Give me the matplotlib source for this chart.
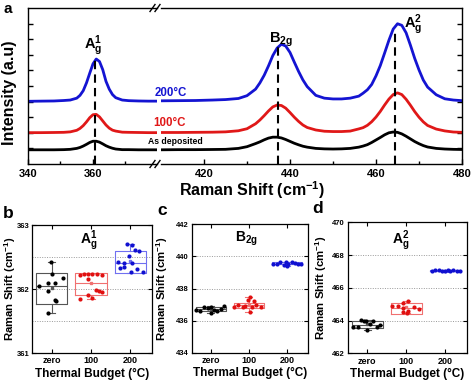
import matplotlib
matplotlib.use('Agg')
import matplotlib.pyplot as plt
from matplotlib.lines import Line2D
from matplotlib.ticker import FixedLocator, NullFormatter

plt.rcParams['font.family'] = ['Liberation Sans', 'DejaVu Sans']
plt.rcParams['font.weight'] = 'bold'
plt.rcParams['mathtext.fontset'] = 'custom'
plt.rcParams['mathtext.rm'] = 'Liberation Sans:bold'
plt.rcParams['mathtext.bf'] = 'Liberation Sans:bold'
plt.rcParams['mathtext.it'] = 'Liberation Sans:bold'
plt.rcParams['mathtext.default'] = 'bf'

# ---------------- data: spectra (panel a) ----------------
x_left = [340, 344, 348, 351, 353, 355, 356, 357, 358, 359, 360, 361, 362, 363,
          364, 365, 366, 367, 369, 371, 374, 377, 380]
blue_left = [4.02, 4.03, 4.04, 4.07, 4.10, 4.22, 4.40, 4.70, 5.20, 5.82, 6.42, 6.73,
             6.57, 6.05, 5.30, 4.80, 4.45, 4.25, 4.10, 4.06, 4.04, 4.03, 4.03]
red_left = [2.01, 2.01, 2.02, 2.03, 2.06, 2.16, 2.28, 2.46, 2.70, 2.97, 3.16, 3.18,
            3.02, 2.76, 2.50, 2.30, 2.17, 2.11, 2.04, 2.03, 2.02, 2.01, 2.01]
black_left = [0.91, 0.91, 0.91, 0.92, 0.94, 1.00, 1.06, 1.15, 1.26, 1.38, 1.46, 1.46,
              1.40, 1.29, 1.17, 1.08, 1.01, 0.96, 0.92, 0.92, 0.91, 0.91, 0.91]

x_right = [410, 414, 418, 422, 425, 428, 430, 432, 433, 434, 435, 436, 437, 438, 439,
           440, 441, 442, 443, 444, 446, 448, 450, 452, 454, 456, 457, 458, 459, 460,
           461, 462, 463, 464, 465, 466, 467, 468, 469, 470, 471, 472, 474, 476, 478, 480]
blue_right = [4.05, 4.06, 4.07, 4.10, 4.13, 4.20, 4.38, 4.80, 5.20, 5.69, 6.29, 6.95,
              7.43, 7.68, 7.56, 7.15, 6.53, 5.93, 5.39, 4.96, 4.40, 4.22, 4.17, 4.17,
              4.22, 4.35, 4.54, 4.76, 5.10, 5.65, 6.31, 7.11, 7.93, 8.65, 8.99, 8.89,
              8.41, 7.62, 6.77, 6.03, 5.38, 4.93, 4.44, 4.18, 4.10, 4.06]
red_right = [2.02, 2.02, 2.03, 2.04, 2.06, 2.13, 2.26, 2.58, 2.82, 3.10, 3.40, 3.66,
             3.78, 3.75, 3.58, 3.30, 3.00, 2.73, 2.50, 2.34, 2.18, 2.10, 2.08, 2.08,
             2.11, 2.25, 2.33, 2.48, 2.71, 3.01, 3.37, 3.78, 4.16, 4.45, 4.56, 4.45,
             4.15, 3.77, 3.36, 3.00, 2.70, 2.47, 2.24, 2.12, 2.05, 2.03]
black_right = [0.91, 0.92, 0.92, 0.93, 0.94, 1.00, 1.11, 1.31, 1.42, 1.55, 1.66, 1.72,
               1.72, 1.67, 1.57, 1.45, 1.33, 1.23, 1.14, 1.08, 1.00, 0.97, 0.96, 0.97,
               1.00, 1.08, 1.15, 1.24, 1.38, 1.54, 1.70, 1.87, 2.00, 2.05, 2.03, 1.93,
               1.78, 1.61, 1.44, 1.30, 1.18, 1.09, 1.00, 0.96, 0.94, 0.93]

peak_pos = [360.6, 437.3, 464.4]
peak_top = [6.7, 7.6, 8.5]
peak_labels = [r'$\mathbf{A}_{g}^{1}$', r'$\mathbf{B}_{2g}$', r'$\mathbf{A}_{g}^{2}$']
peak_label_xy = [(360.0, 7.6), (437.9, 7.95), (468.6, 8.95)]

# ---------------- data: box panels (b, c, d) ----------------
categories = ['zero', '100', '200']

b_vals = [
    [362.42, 362.23, 362.17, 362.10, 362.04, 362.10, 361.97, 361.83, 361.82, 361.62],
    [362.22, 362.23, 362.23, 362.24, 362.24, 362.22, 362.15, 361.99, 361.97, 361.95,
     361.84, 361.90, 361.86],
    [362.70, 362.68, 362.61, 362.59, 362.52, 362.42, 362.40, 362.41, 362.34, 362.33,
     362.27, 362.32, 362.27],
]
b_jit = [
    [-0.01, 0.01, 0.29, -0.09, -0.31, 0.09, -0.09, 0.09, 0.11, -0.09],
    [-0.29, -0.18, -0.07, 0.03, 0.14, 0.29, -0.07, 0.12, 0.20, 0.29, -0.29, -0.07, 0.02],
    [-0.09, 0.03, 0.12, 0.21, -0.03, -0.31, -0.15, 0.03, -0.15, -0.26, 0.02, 0.16, 0.31],
]
b_q1 = [361.77, 361.91, 362.25]
b_q3 = [362.25, 362.25, 362.60]
b_med = [362.04, 362.09, 362.40]
b_wlo = [361.62, 361.84, 362.25]
b_whi = [362.42, 362.25, 362.70]
b_mean = [362.02, 362.10, 362.44]

c_vals = [
    [436.66, 436.60, 436.86, 436.80, 436.82, 436.45, 436.68, 436.62, 436.75, 436.88],
    [436.85, 436.98, 436.85, 437.28, 437.50, 437.25, 436.55, 436.90, 436.82, 436.97, 436.85],
    [439.53, 439.53, 439.68, 439.45, 439.62, 439.53, 439.62, 439.58, 439.55, 439.53, 439.42],
]
c_jit = [
    [-0.38, -0.27, -0.17, -0.08, 0.0, 0.0, 0.08, 0.17, 0.26, 0.34],
    [-0.40, -0.28, -0.15, -0.03, 0.03, 0.13, 0.03, -0.10, 0.08, 0.20, 0.31],
    [-0.36, -0.26, -0.17, -0.08, -0.03, 0.04, 0.13, 0.21, 0.30, 0.38, 0.0],
]
c_q1 = [436.59, 436.80, 439.50]
c_q3 = [436.86, 437.12, 439.62]
c_med = [436.72, 436.95, 439.55]
c_wlo = [436.45, 436.55, 439.42]
c_whi = [436.88, 437.50, 439.68]
c_mean = [436.71, 436.98, 439.56]

d_vals = [
    [463.63, 463.63, 464.04, 463.98, 463.98, 463.43, 463.78, 463.98, 463.63, 463.74],
    [464.87, 464.90, 465.10, 465.20, 464.75, 464.60, 464.45, 464.50, 464.82, 464.68],
    [467.02, 467.06, 467.08, 467.05, 467.00, 467.08, 467.04, 467.06, 467.05, 467.05],
]
d_jit = [
    [-0.36, -0.23, -0.17, -0.08, -0.02, 0.0, 0.07, 0.15, 0.24, 0.34],
    [-0.36, -0.22, -0.07, 0.04, -0.07, 0.04, 0.03, -0.07, 0.19, 0.32],
    [-0.34, -0.26, -0.17, -0.09, 0.0, 0.06, 0.13, 0.21, 0.30, 0.39],
]
d_q1 = [463.57, 464.42, 467.00]
d_q3 = [463.98, 465.05, 467.10]
d_med = [463.75, 464.75, 467.05]
d_wlo = [463.43, 464.45, 466.99]
d_whi = [464.04, 465.20, 467.09]
d_mean = [463.77, 464.80, 467.05]

# ---------------- styling ----------------
C_BLUE = '#1414d2'
C_RED = '#e01818'
C_BLACK = '#000000'
pt_colors = [C_BLACK, '#e01010', '#1010d0']
box_colors = ['#555555', '#f07070', '#7070f0']

W, H = 474, 381
fig = plt.figure(figsize=(W / 100, H / 100), dpi=100)


def fr(l, t, r, b):
    return [l / W, 1 - b / H, (r - l) / W, (b - t) / H]


def fx(px):
    return px / W


def fy(py):
    return 1 - py / H


# ---------------- panel a ----------------
axL = fig.add_axes(fr(28, 8, 157, 164))
axR = fig.add_axes(fr(161, 8, 462, 164))
for ax in (axL, axR):
    ax.set_ylim(0, 10)
    ax.yaxis.set_major_locator(FixedLocator([1, 2, 3, 4, 5, 6, 7, 8, 9]))
    ax.yaxis.set_major_formatter(NullFormatter())
    ax.tick_params(which='both', direction='in', labelsize=8, width=1)
    ax.tick_params(which='major', length=3.5)
    ax.tick_params(which='minor', length=2)
    for s in ax.spines.values():
        s.set_linewidth(1.0)

axL.set_xlim(340, 379.7)
axR.set_xlim(410, 480)
axL.spines['right'].set_visible(False)
axR.spines['left'].set_visible(False)
axL.tick_params(axis='y', left=True, right=False)
axR.tick_params(axis='y', left=False, right=True)
axL.set_xticks([340, 360])
axL.set_xticks([350, 370], minor=True)
axR.set_xticks([420, 440, 460, 480])
axR.set_xticks([430, 450, 470], minor=True)
for ax in (axL, axR):
    for lab in ax.get_xticklabels():
        lab.set_fontweight('bold')

lw_s = 2.0
axL.plot(x_left, black_left, color=C_BLACK, lw=lw_s)
axL.plot(x_left, red_left, color=C_RED, lw=lw_s)
axL.plot(x_left, blue_left, color=C_BLUE, lw=lw_s)
axR.plot(x_right, black_right, color=C_BLACK, lw=lw_s)
axR.plot(x_right, red_right, color=C_RED, lw=lw_s)
axR.plot(x_right, blue_right, color=C_BLUE, lw=lw_s)

for pos, top, lab, (lx, ly) in zip(peak_pos, peak_top, peak_labels, peak_label_xy):
    ax = axL if pos < 400 else axR
    ax.plot([pos, pos], [0, top], color='black', lw=1.5, ls=(0, (4, 2.5)))
    ax.text(lx, ly, lab, ha='center', va='center', fontsize=10.5, color='black')

fig.text(fx(171), fy(93.5), '200°C', color=C_BLUE, fontsize=8.3,
         fontweight='bold', ha='center', va='center')
fig.text(fx(170), fy(123.5), '100°C', color=C_RED, fontsize=8.3,
         fontweight='bold', ha='center', va='center')
fig.text(fx(175), fy(141.5), 'As deposited', color='black', fontsize=6.2,
         fontweight='bold', ha='center', va='center')

# break marks
for ybase in (164, 8):
    for k in range(2):
        x0 = 150 + k * 5
        fig.add_artist(Line2D([fx(x0), fx(x0 + 5)], [fy(ybase + 3.5), fy(ybase - 3.5)],
                              color='black', lw=1.0, transform=fig.transFigure))

fig.text(fx(252), fy(190), r'Raman Shift (cm$^{-1}$)', fontsize=11.5,
         fontweight='bold', ha='center', va='center')
fig.text(fx(10), fy(93), 'Intensity (a.u)', fontsize=11.5, fontweight='bold',
         ha='center', va='center', rotation=90)
fig.text(fx(3), fy(13), 'a', fontsize=11, fontweight='bold', ha='left', va='baseline')


# ---------------- panels b, c, d ----------------
def box_panel(rect, vals, jits, q1, q3, med, wlo, whi, mean, ylim, yticks, grid,
              title, title_xy, ylab_x, letter, letter_xy):
    ax = fig.add_axes(fr(*rect))
    ax.set_xlim(0.5, 3.55)
    ax.set_ylim(*ylim)
    for g in grid:
        ax.axhline(g, color='#999999', lw=0.7, ls=(0, (1, 1.5)), zorder=0)
    for i in range(3):
        xs = [i + 1 + j for j in jits[i]]
        stats = [dict(med=med[i], q1=q1[i], q3=q3[i], whislo=wlo[i], whishi=whi[i],
                      mean=mean[i], fliers=[])]
        bc = box_colors[i]
        ax.bxp(stats, positions=[i + 1], widths=0.8, showfliers=False, showmeans=True,
               manage_ticks=False, capwidths=0.18,
               boxprops=dict(color=bc, lw=0.8),
               whiskerprops=dict(color=bc, lw=0.8),
               capprops=dict(color=bc, lw=0.8),
               medianprops=dict(color=bc, lw=0.8),
               meanprops=dict(marker='s', markersize=1.5, markerfacecolor=bc,
                              markeredgecolor=bc))
        ax.scatter(xs, vals[i], s=9, color=pt_colors[i], zorder=3, linewidths=0)
    ax.set_xticks([1, 2, 3])
    ax.set_xticklabels(categories)
    ax.set_yticks(yticks)
    ax.set_yticklabels([str(t) for t in yticks])
    ax.tick_params(axis='x', which='both', direction='in', top=True, length=3,
                   labelsize=6.5, pad=2.5)
    ax.tick_params(axis='y', which='both', direction='in', right=True, length=3,
                   labelsize=5.5, pad=2)
    for lab in ax.get_xticklabels() + ax.get_yticklabels():
        lab.set_fontweight('bold')
    for s in ax.spines.values():
        s.set_linewidth(0.9)
    ax.text(title_xy[0], title_xy[1], title, ha='center', va='center', fontsize=10)
    ax.set_ylabel(r'Raman Shift (cm$^{-1}$)', fontsize=8.2, fontweight='bold')
    ax.yaxis.set_label_coords(ylab_x, 0.5)
    ax.set_xlabel('Thermal Budget (°C)', fontsize=8.5, fontweight='bold')
    ax.xaxis.set_label_coords(0.5, -0.115)
    fig.text(fx(letter_xy[0]), fy(letter_xy[1]), letter, fontsize=12.5,
             fontweight='bold', ha='left', va='baseline')
    return ax


box_panel((32, 225, 152, 353), b_vals, b_jit, b_q1, b_q3, b_med, b_wlo, b_whi, b_mean,
          (361, 363), [361, 362, 363], [361.5, 362, 362.5],
          r'$\mathbf{A}_{g}^{1}$', (1.95, 362.75), -0.12, 'b', (3, 218))
box_panel((191.7, 224.3, 307.7, 352.7), c_vals, c_jit, c_q1, c_q3, c_med, c_wlo, c_whi,
          c_mean, (434, 442), [434, 436, 438, 440, 442], [436, 438, 440],
          r'$\mathbf{B}_{2g}$', (1.95, 441.1), -0.19, 'c', (157, 215))
box_panel((347.7, 222.3, 466.7, 353.3), d_vals, d_jit, d_q1, d_q3, d_med, d_wlo, d_whi,
          d_mean, (462, 470), [462, 464, 466, 468, 470], [464, 466, 468],
          r'$\mathbf{A}_{g}^{2}$', (1.85, 468.9), -0.16, 'd', (312, 213))

fig.savefig('out.png', dpi=100)
